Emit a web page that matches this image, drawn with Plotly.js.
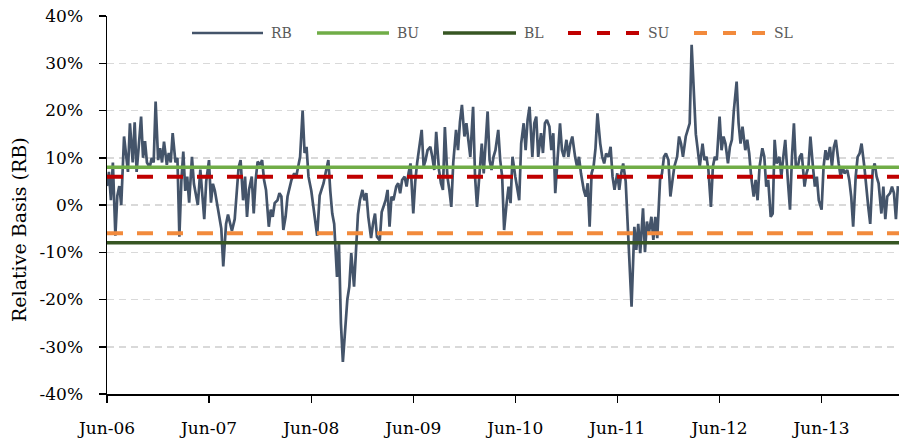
<!DOCTYPE html>
<html>
<head>
<meta charset="utf-8">
<script src="https://cdn.plot.ly/plotly-3.0.1.min.js"></script>
<style>html,body{margin:0;padding:0;background:#fff;}#chart{width:900px;height:441px;}</style>
</head>
<body>
<div id="chart"></div>
<script>
// ---- data ----
const dates = [
"2006-06-01","2006-06-08","2006-06-15","2006-06-22",
"2006-07-01","2006-07-08","2006-07-15","2006-07-22",
"2006-08-01","2006-08-08","2006-08-15","2006-08-22",
"2006-09-01","2006-09-08","2006-09-15","2006-09-22",
"2006-10-01","2006-10-08","2006-10-15","2006-10-22",
"2006-11-01","2006-11-08","2006-11-15","2006-11-22",
"2006-12-01","2006-12-08","2006-12-15","2006-12-22",
"2007-01-01","2007-01-08","2007-01-15","2007-01-22",
"2007-02-01","2007-02-08","2007-02-15","2007-02-22",
"2007-03-01","2007-03-08","2007-03-15","2007-03-22",
"2007-04-01","2007-04-08","2007-04-15","2007-04-22",
"2007-05-01","2007-05-08","2007-05-15","2007-05-22",
"2007-06-01","2007-06-08","2007-06-15","2007-06-22",
"2007-07-01","2007-07-08","2007-07-15","2007-07-22",
"2007-08-01","2007-08-08","2007-08-15","2007-08-22",
"2007-09-01","2007-09-08","2007-09-15","2007-09-22",
"2007-10-01","2007-10-08","2007-10-15","2007-10-22",
"2007-11-01","2007-11-08","2007-11-15","2007-11-22",
"2007-12-01","2007-12-08","2007-12-15","2007-12-22",
"2008-01-01","2008-01-08","2008-01-15","2008-01-22",
"2008-02-01","2008-02-08","2008-02-15","2008-02-22",
"2008-03-01","2008-03-08","2008-03-15","2008-03-22",
"2008-04-01","2008-04-08","2008-04-15","2008-04-22",
"2008-05-01","2008-05-08","2008-05-15","2008-05-22",
"2008-06-01","2008-06-08","2008-06-15","2008-06-22",
"2008-07-01","2008-07-08","2008-07-15","2008-07-22",
"2008-08-01","2008-08-08","2008-08-15","2008-08-22",
"2008-09-01","2008-09-08","2008-09-15","2008-09-22",
"2008-10-01","2008-10-08","2008-10-15","2008-10-22",
"2008-11-01","2008-11-08","2008-11-15","2008-11-22",
"2008-12-01","2008-12-08","2008-12-15","2008-12-22",
"2009-01-01","2009-01-08","2009-01-15","2009-01-22",
"2009-02-01","2009-02-08","2009-02-15","2009-02-22",
"2009-03-01","2009-03-08","2009-03-15","2009-03-22",
"2009-04-01","2009-04-08","2009-04-15","2009-04-22",
"2009-05-01","2009-05-08","2009-05-15","2009-05-22",
"2009-06-01","2009-06-08","2009-06-15","2009-06-22",
"2009-07-01","2009-07-08","2009-07-15","2009-07-22",
"2009-08-01","2009-08-08","2009-08-15","2009-08-22",
"2009-09-01","2009-09-08","2009-09-15","2009-09-22",
"2009-10-01","2009-10-08","2009-10-15","2009-10-22",
"2009-11-01","2009-11-08","2009-11-15","2009-11-22",
"2009-12-01","2009-12-08","2009-12-15","2009-12-22",
"2010-01-01","2010-01-08","2010-01-15","2010-01-22",
"2010-02-01","2010-02-08","2010-02-15","2010-02-22",
"2010-03-01","2010-03-08","2010-03-15","2010-03-22",
"2010-04-01","2010-04-08","2010-04-15","2010-04-22",
"2010-05-01","2010-05-08","2010-05-15","2010-05-22",
"2010-06-01","2010-06-08","2010-06-15","2010-06-22",
"2010-07-01","2010-07-08","2010-07-15","2010-07-22",
"2010-08-01","2010-08-08","2010-08-15","2010-08-22",
"2010-09-01","2010-09-08","2010-09-15","2010-09-22",
"2010-10-01","2010-10-08","2010-10-15","2010-10-22",
"2010-11-01","2010-11-08","2010-11-15","2010-11-22",
"2010-12-01","2010-12-08","2010-12-15","2010-12-22",
"2011-01-01","2011-01-08","2011-01-15","2011-01-22",
"2011-02-01","2011-02-08","2011-02-15","2011-02-22",
"2011-03-01","2011-03-08","2011-03-15","2011-03-22",
"2011-04-01","2011-04-08","2011-04-15","2011-04-22",
"2011-05-01","2011-05-08","2011-05-15","2011-05-22",
"2011-06-01","2011-06-08","2011-06-15","2011-06-22",
"2011-07-01","2011-07-08","2011-07-15","2011-07-22",
"2011-08-01","2011-08-08","2011-08-15","2011-08-22",
"2011-09-01","2011-09-08","2011-09-15","2011-09-22",
"2011-10-01","2011-10-08","2011-10-15","2011-10-22",
"2011-11-01","2011-11-08","2011-11-15","2011-11-22",
"2011-12-01","2011-12-08","2011-12-15","2011-12-22",
"2012-01-01","2012-01-08","2012-01-15","2012-01-22",
"2012-02-01","2012-02-08","2012-02-15","2012-02-22",
"2012-03-01","2012-03-08","2012-03-15","2012-03-22",
"2012-04-01","2012-04-08","2012-04-15","2012-04-22",
"2012-05-01","2012-05-08","2012-05-15","2012-05-22",
"2012-06-01","2012-06-08","2012-06-15","2012-06-22",
"2012-07-01","2012-07-08","2012-07-15","2012-07-22",
"2012-08-01","2012-08-08","2012-08-15","2012-08-22",
"2012-09-01","2012-09-08","2012-09-15","2012-09-22",
"2012-10-01","2012-10-08","2012-10-15","2012-10-22",
"2012-11-01","2012-11-08","2012-11-15","2012-11-22",
"2012-12-01","2012-12-08","2012-12-15","2012-12-22",
"2013-01-01","2013-01-08","2013-01-15","2013-01-22",
"2013-02-01","2013-02-08","2013-02-15","2013-02-22",
"2013-03-01","2013-03-08","2013-03-15","2013-03-22",
"2013-04-01","2013-04-08","2013-04-15","2013-04-22",
"2013-05-01","2013-05-08","2013-05-15","2013-05-22",
"2013-06-01","2013-06-08","2013-06-15","2013-06-22",
"2013-07-01","2013-07-08","2013-07-15","2013-07-22",
"2013-08-01","2013-08-08","2013-08-15","2013-08-22",
"2013-09-01","2013-09-08","2013-09-15","2013-09-22",
"2013-10-01","2013-10-08","2013-10-15","2013-10-22",
"2013-11-01","2013-11-08","2013-11-15","2013-11-22",
"2013-12-01","2013-12-08","2013-12-15","2013-12-22",
"2014-01-01","2014-01-08","2014-01-15","2014-01-22",
"2014-02-01","2014-02-08","2014-02-15","2014-02-22",
"2014-03-01"
];

// Relative Basis (%)
const rbValues = [
4, 7, 1, 9,
-6.5, 2, 4, 0,
14.5, 10, 7, 17.3,
9, 17.5, 7, 12,
18.7, 10, 13.5, 9,
8, 10, 9, 21.9,
9.5, 12, 9, 13.4,
8.5, 11, 9, 15.2,
9, 10, -6.7, 5,
11.3, 3, 6, 0.5,
10.2, 4.5, 2, 0,
7.5, 3, -3, 5,
9.5, 0.5, 4.5, 3,
0, -3, -5, -13,
-4, -2, -4, -5.5,
-3, 3, 8, 9.5,
1, 6, -2.5, 3.2,
6, -1.8, 5.3, 9.2,
8.5, 9.5, 5.3, 3.2,
-4.6, -1, -2.5, 0.4,
1, 2.5, 1.8, -5.3,
-2.5, 1.8, 3.9, 5.3,
6.7, 6, 8.1, 10.2,
20, 11, 12.3, 6,
3, 0, -3, -6.5,
2, 3.2, 4.6, 6.7,
9.5, 3, -1.8, -4,
-15.2, -8, -25, -33.2,
-25.8, -20, -17.3, -10.2,
-17.3, -8, -2, 1,
3.2, 1, 2.5, -2.5,
-7, -3.9, -1.8, -6.7,
-7.5, -1.5, -0.4, 1,
3.2, -4.6, 1.8, 1,
3.9, 4.6, 2.5, 5.3,
6, 3.9, 6.7, 8.8,
-1.8, 5, 9, 11.6,
15.9, 8.1, 9.5, 11.6,
12.3, 10.2, 7.4, 15.5,
7.4, 4.6, 3.2, 16.5,
6, 3.2, -0.4, 9,
15.9, 11.6, 17.6, 21.2,
14.5, 17.3, 13, 10.2,
20.8, 6, -0.4, 6,
13, 6.7, 14.5, 19.8,
9.5, 7.4, 10.2, 11.6,
15.9, 9.5, 6, -5.3,
0.4, 3.9, 0.4, 10.2,
6, 3.9, 1, 13,
17.3, 11.6, 18, 20.8,
10.2, 17.3, 18.7, 10.2,
15.2, 11, 17.3, 18,
16.6, 11.6, 15.2, 2.5,
12.3, 17.3, 11.6, 10.2,
13.8, 10.2, 13, 14.5,
10.2, 8.1, 10.2, 6.7,
3.2, 1.8, 4.6, -4.6,
6.7, 8.1, 12, 19.4,
13, 10.2, 8.8, 10.9,
10.2, 12.3, 6, 3.2,
6.7, 3.2, 6.7, 8.8,
5, -3, -11.6, -21.5,
-4.6, -9.5, -4, -10.2,
-0.7, -10, -3.5, -6,
-2.5, -7.4, -2.5, -7,
5.3, 6.7, 10.2, 10.9,
9.5, 1.8, 5, 8.1,
10.2, 14.5, 13, 10.2,
14.5, 15.9, 17.3, 33.9,
22, 15, 11.6, 8.1,
13, 9.5, 10.2, 7.4,
-0.4, 8.1, 10.2, 9.5,
18.7, 11.6, 14.5, 13,
8.8, 12.3, 13.8, 20,
26.1, 17.3, 13, 16.6,
11.6, 13.8, 10.9, 6,
1.8, 5.3, 1, 8.1,
12, 10.2, 3.9, 5.3,
-2.5, -1.8, 13.8, 8.8,
10.2, 6, 10.2, 13.8,
4.6, -1, 10.2, 17.3,
8, 8.1, 10.2, 10.9,
3.9, 6.7, 8.1, 14.5,
8.1, 3.9, 6, 1,
-1, 8, 11.6, 9.5,
12.3, 8.1, 12.3, 13.8,
8.8, 6, 8.1, 6.7,
7.4, 5.3, 1.8, -4.6,
6, 10.2, 10.9, 13,
8.1, 3.2, -0.4, -4,
7.4, 8.8, 6, 4.6,
-1.8, 3.9, -3, 1.8,
2.5, 3.9, 2.5, -3,
4
];

// Threshold bands (%), constant over the period
const bandDates = ["2006-06-01", "2014-03-05"];
const buValues = [8, 8];
const blValues = [-8, -8];
const suValues = [6, 6];
const slValues = [-6, -6];

const seriesNames = ["RB", "BU", "BL", "SU", "SL"];

const xTickVals = ["2006-06-01","2007-06-01","2008-06-01","2009-06-01","2010-06-01","2011-06-01","2012-06-01","2013-06-01"];
const xTickText = ["Jun-06","Jun-07","Jun-08","Jun-09","Jun-10","Jun-11","Jun-12","Jun-13"];
const yTickVals = [-40, -30, -20, -10, 0, 10, 20, 30, 40];
const yTickText = ["-40%","-30%","-20%","-10%","0%","10%","20%","30%","40%"];

// ---- styles ----
const colors = {RB: "#44546A", BU: "#70AD47", BL: "#375623", SU: "#C00000", SL: "#F28A3C"};
const dashStyle = "16px,14px";

const traces = [
  {x: dates, y: rbValues, name: seriesNames[0], type: "scatter", mode: "lines",
   line: {color: colors.RB, width: 2.7}},
  {x: bandDates, y: buValues, name: seriesNames[1], type: "scatter", mode: "lines",
   line: {color: colors.BU, width: 3.5}},
  {x: bandDates, y: blValues, name: seriesNames[2], type: "scatter", mode: "lines",
   line: {color: colors.BL, width: 3.5}},
  {x: bandDates, y: suValues, name: seriesNames[3], type: "scatter", mode: "lines",
   line: {color: colors.SU, width: 4, dash: dashStyle}},
  {x: bandDates, y: slValues, name: seriesNames[4], type: "scatter", mode: "lines",
   line: {color: colors.SL, width: 4, dash: dashStyle}}
];

// plot area in pixels
const L = 107, R = 899, T = 16, B = 394;
const px = v => (v - L) / (R - L);
const py = v => (B - v) / (B - T);

// custom legend (long line samples like the original)
const legendY = 33;
const legendItems = [
  {name: "RB", x0: 192, x1: 263, tx: 269, color: colors.RB, width: 2.7, dash: "solid"},
  {name: "BU", x0: 317, x1: 389, tx: 395, color: colors.BU, width: 3.5, dash: "solid"},
  {name: "BL", x0: 443, x1: 516, tx: 522, color: colors.BL, width: 3.5, dash: "solid"},
  {name: "SU", x0: 568, x1: 640, tx: 646, color: colors.SU, width: 4, dash: "13px,16px"},
  {name: "SL", x0: 694, x1: 766, tx: 772, color: colors.SL, width: 4, dash: "13px,16px"}
];
const shapes = legendItems.map(it => ({
  type: "line", xref: "paper", yref: "paper",
  x0: px(it.x0), x1: px(it.x1), y0: py(legendY), y1: py(legendY),
  line: {color: it.color, width: it.width, dash: it.dash}
}));
const annotations = legendItems.map(it => ({
  xref: "paper", yref: "paper", x: px(it.tx), y: py(legendY),
  xanchor: "left", yanchor: "middle", showarrow: false,
  text: it.name, font: {family: "DejaVu Serif", size: 14, color: "#595959"}
}));
annotations.push({
  xref: "paper", yref: "paper", x: px(19), y: py(230),
  xanchor: "center", yanchor: "middle", showarrow: false, textangle: -90,
  text: "Relative Basis (RB)", font: {family: "DejaVu Serif", size: 19, color: "#000"}
});

const layout = {
  width: 900, height: 441,
  margin: {l: L, r: 900 - R, t: T, b: 441 - B, pad: 0},
  paper_bgcolor: "#fff", plot_bgcolor: "#fff",
  font: {family: "DejaVu Serif", size: 17, color: "#000"},
  showlegend: false,
  xaxis: {
    type: "date", range: bandDates, tickvals: xTickVals, ticktext: xTickText,
    ticks: "outside", ticklen: 7, tickwidth: 1.5, tickcolor: "#000",
    showline: true, linecolor: "#000", linewidth: 1.5,
    showgrid: false, zeroline: false, ticklabelstandoff: 11
  },
  yaxis: {
    range: [-40, 40], tickvals: yTickVals, ticktext: yTickText,
    ticks: "outside", ticklen: 7, tickwidth: 1.5, tickcolor: "#000",
    showline: true, linecolor: "#000", linewidth: 1.5,
    showgrid: true, gridcolor: "#D9D9D9", gridwidth: 1.5, griddash: "7px,5px",
    zeroline: false, ticklabelstandoff: 12
  },
  shapes: shapes,
  annotations: annotations
};

Plotly.newPlot("chart", traces, layout, {staticPlot: true, displayModeBar: false});
</script>
</body>
</html>
